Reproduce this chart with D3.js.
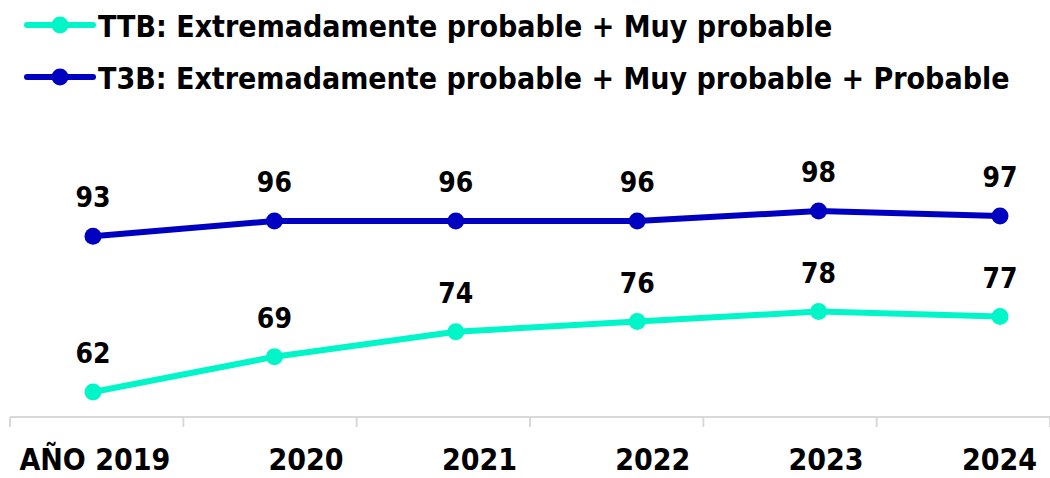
<!DOCTYPE html>
<html>
<head>
<meta charset="utf-8">
<script src="https://cdn.jsdelivr.net/npm/d3@7"></script>
<style>
  html, body { margin: 0; padding: 0; background: #fff; }
  svg { display: block; }
  text { font-family: "DejaVu Sans Condensed", "DejaVu Sans", sans-serif; font-weight: bold; fill: #000; }
</style>
</head>
<body>
<svg id="chart" width="1050" height="478"></svg>
<script>
const categories = ["AÑO 2019", "2020", "2021", "2022", "2023", "2024"];
const ttbValues = [62, 69, 74, 76, 78, 77];
const t3bValues = [93, 96, 96, 96, 98, 97];
const seriesNames = ["TTB: Extremadamente probable + Muy probable",
                     "T3B: Extremadamente probable + Muy probable + Probable"];
const seriesColors = ["#00F5C8", "#0000C0"];

const series = [
  { name: seriesNames[0], values: ttbValues, color: seriesColors[0] },
  { name: seriesNames[1], values: t3bValues, color: seriesColors[1] }
];

const svg = d3.select("#chart");

// Category band (axis ticks) and point positions
const band = d3.scaleBand().domain(categories).range([10, 1050]).padding(0);
const xPt = d3.scalePoint().domain(categories).range([93, 1000]);
const y = d3.scaleLinear().domain([62, 98]).range([392, 211]);

// Axis
const axisY = 417;
const axisG = svg.append("g").attr("transform", `translate(0,${axisY})`);
axisG.append("line").attr("x1", 10).attr("x2", 1050).attr("y1", 0).attr("y2", 0)
  .attr("stroke", "#d9d9d9").attr("stroke-width", 2);
const tickPos = categories.map(c => band(c)).concat([band(categories[categories.length-1]) + band.bandwidth()]);
axisG.selectAll("line.tick").data(tickPos).enter().append("line")
  .attr("class", "tick")
  .attr("x1", d => d).attr("x2", d => d).attr("y1", 0).attr("y2", 10)
  .attr("stroke", "#d9d9d9").attr("stroke-width", 2);
axisG.selectAll("text.cat").data(categories).enter().append("text")
  .attr("class", "cat")
  .attr("x", d => band(d) + band.bandwidth() - 13)
  .attr("y", 53)
  .attr("text-anchor", "end")
  .style("font-size", "30px")
  .text(d => d);

// Lines
const line = d3.line().x((d, i) => xPt(categories[i])).y(d => y(d));
series.forEach(s => {
  svg.append("path").datum(s.values)
    .attr("d", line).attr("fill", "none")
    .attr("stroke", s.color).attr("stroke-width", 6)
    .attr("stroke-linejoin", "round");
  svg.selectAll(null).data(s.values).enter().append("circle")
    .attr("cx", (d, i) => xPt(categories[i])).attr("cy", d => y(d))
    .attr("r", 8.5).attr("fill", s.color);
  svg.selectAll(null).data(s.values).enter().append("text")
    .attr("x", (d, i) => xPt(categories[i])).attr("y", d => y(d) - 29)
    .attr("text-anchor", "middle")
    .style("font-size", "28px")
    .text(d => d);
});

// Legend
const legendRows = [25, 77];
series.forEach((s, i) => {
  const g = svg.append("g").attr("transform", `translate(0,${legendRows[i]})`);
  g.append("line").attr("x1", 27).attr("x2", 93).attr("y1", 0).attr("y2", 0)
    .attr("stroke", s.color).attr("stroke-width", 6).attr("stroke-linecap", "round");
  g.append("circle").attr("cx", 60).attr("cy", 0).attr("r", 8.5).attr("fill", s.color);
  g.append("text").attr("x", 98).attr("y", 12)
    .style("font-size", "30px").text(s.name);
});
</script>
</body>
</html>
